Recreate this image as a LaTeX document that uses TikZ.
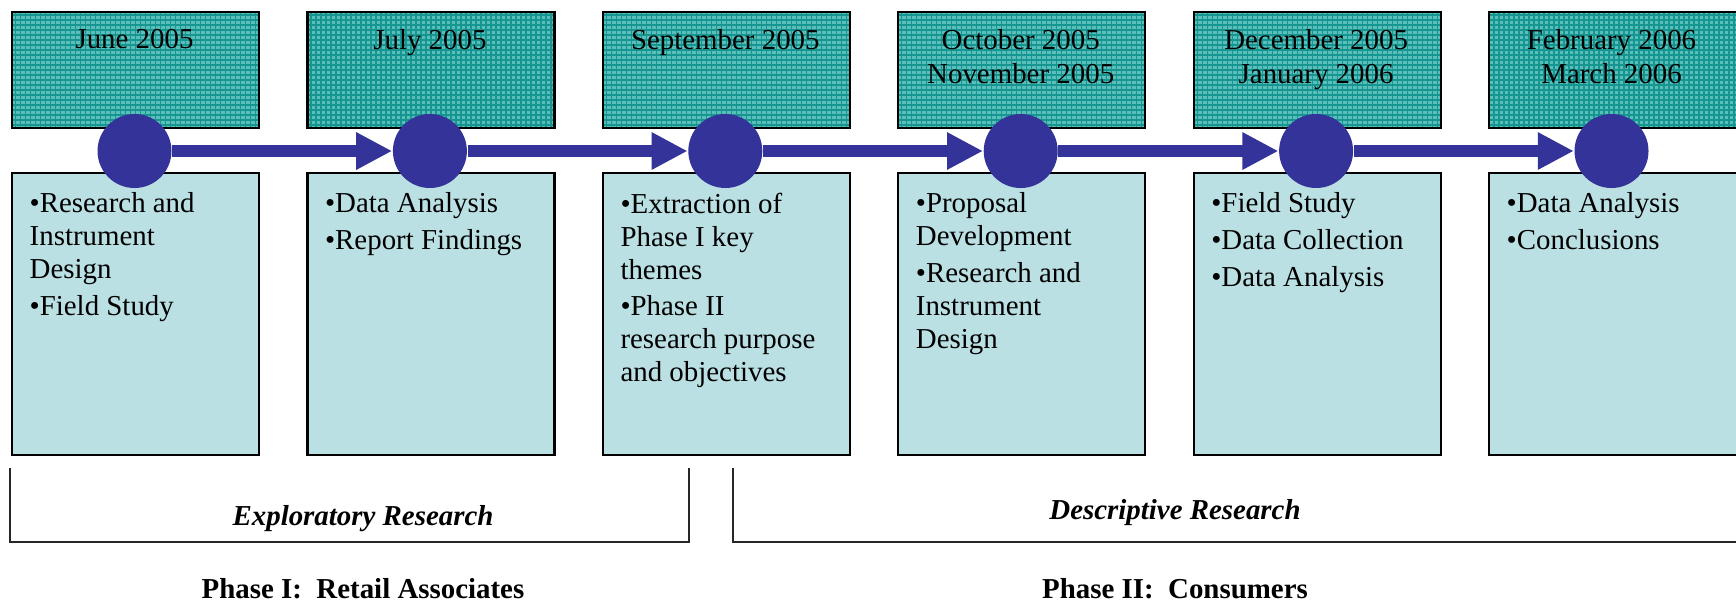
\documentclass[tikz,border=0pt]{standalone}
\usepackage{fontspec}
\setmainfont{Liberation Serif}
\usetikzlibrary{positioning,arrows.meta}

\definecolor{dotblue}{RGB}{51,51,153}
\definecolor{dateteal}{RGB}{92,190,186}
\definecolor{dategrid}{RGB}{22,150,145}
\definecolor{taskblue}{RGB}{186,224,227}

\tikzset{
  datebox/.style={draw=black, line width=0.6pt, fill=dateteal,
    minimum width=2.47cm, minimum height=1.16cm, anchor=north west, inner sep=0pt,
    path picture={\draw[dategrid, line width=0.35pt]
      (path picture bounding box.south west) grid[step=0.05]
      (path picture bounding box.north east);}},
  taskbox/.style={draw=black, line width=0.6pt, fill=taskblue,
    minimum width=2.47cm, minimum height=2.82cm, anchor=north west, inner sep=0pt},
  datetext/.style={anchor=north, align=center, inner sep=0pt,
    font=\fontsize{8.22}{9.6}\selectfont},
  tasktext/.style={anchor=north west, align=left, inner sep=0pt,
    font=\fontsize{8.22}{9.36}\selectfont},
  dot/.style={circle, fill=dotblue, minimum size=0.74cm, inner sep=0pt},
  flow/.style={draw=dotblue, line width=0.12cm,
    -{Triangle[length=0.36cm,width=0.35cm]}},
  bracket/.style={draw=black!85, line width=0.55pt},
  stage/.style={anchor=base, font=\fontsize{8.22}{9.36}\selectfont\bfseries\itshape},
  phase/.style={anchor=base, font=\fontsize{8.22}{9.36}\selectfont\bfseries},
}

\begin{document}
\begin{tikzpicture}
\useasboundingbox (0,0) rectangle (17.36,-6.05);
\clip (0,0) rectangle (17.36,-6.05);

% month boxes on top
\node[datebox] (d1) at (0.11,-0.11) {};
\node[datebox] (d2) at (3.064,-0.11) {};
\node[datebox] (d3) at (6.018,-0.11) {};
\node[datebox] (d4) at (8.972,-0.11) {};
\node[datebox] (d5) at (11.926,-0.11) {};
\node[datebox, minimum width=2.7cm] (d6) at (14.88,-0.11) {};

\node[datetext] (m1) at (1.345,-0.285) {June 2005};
\node[datetext] (m2) at (4.299,-0.285) {July 2005};
\node[datetext] (m3) at (7.253,-0.285) {September 2005};
\node[datetext] (m4) at (10.207,-0.285) {October 2005\\November 2005};
\node[datetext] (m5) at (13.161,-0.285) {December 2005\\January 2006};
\node[datetext] (m6) at (16.115,-0.285) {February 2006\\March 2006};

% task boxes below
\node[taskbox] (b1) at (0.11,-1.72) {};
\node[taskbox] (b2) at (3.064,-1.72) {};
\node[taskbox] (b3) at (6.018,-1.72) {};
\node[taskbox] (b4) at (8.972,-1.72) {};
\node[taskbox] (b5) at (11.926,-1.72) {};
\node[taskbox, minimum width=2.7cm] (b6) at (14.88,-1.72) {};

\node[tasktext] (k1) at (0.29,-1.922) {•Research and\\Instrument\\Design\\[1.1pt]•Field Study};
\node[tasktext] (k2) at (3.244,-1.922) {•Data Analysis\\[1.1pt]•Report Findings};
\node[tasktext] (k3) at (6.198,-1.922) {•Extraction of\\Phase I key\\themes\\[1.1pt]•Phase II\\research purpose\\and objectives};
\node[tasktext] (k4) at (9.152,-1.922) {•Proposal\\Development\\[1.1pt]•Research and\\Instrument\\Design};
\node[tasktext] (k5) at (12.106,-1.922) {•Field Study\\[1.1pt]•Data Collection\\[1.1pt]•Data Analysis};
\node[tasktext] (k6) at (15.06,-1.922) {•Data Analysis\\[1.1pt]•Conclusions};

% timeline
\node[dot] (c1) at (1.345,-1.51) {};
\node[dot] (c2) at (4.299,-1.51) {};
\node[dot] (c3) at (7.253,-1.51) {};
\node[dot] (c4) at (10.207,-1.51) {};
\node[dot] (c5) at (13.161,-1.51) {};
\node[dot] (c6) at (16.115,-1.51) {};

\draw[flow] (c1) -- (c2);
\draw[flow] (c2) -- (c3);
\draw[flow] (c3) -- (c4);
\draw[flow] (c4) -- (c5);
\draw[flow] (c5) -- (c6);

% research stages
\draw[bracket] (0.10,-4.68) -- (0.10,-5.42) -- (6.89,-5.42) -- (6.89,-4.68);
\draw[bracket] (7.33,-4.68) -- (7.33,-5.42) -- (17.6,-5.42);

\node[stage] (s1) at (3.63,-5.25) {Exploratory Research};
\node[stage] (s2) at (11.75,-5.19) {Descriptive Research};

\node[phase] (p1) at (3.63,-5.98) {Phase I:\ \ Retail Associates};
\node[phase] (p2) at (11.75,-5.98) {Phase II:\ \ Consumers};
\end{tikzpicture}
\end{document}
